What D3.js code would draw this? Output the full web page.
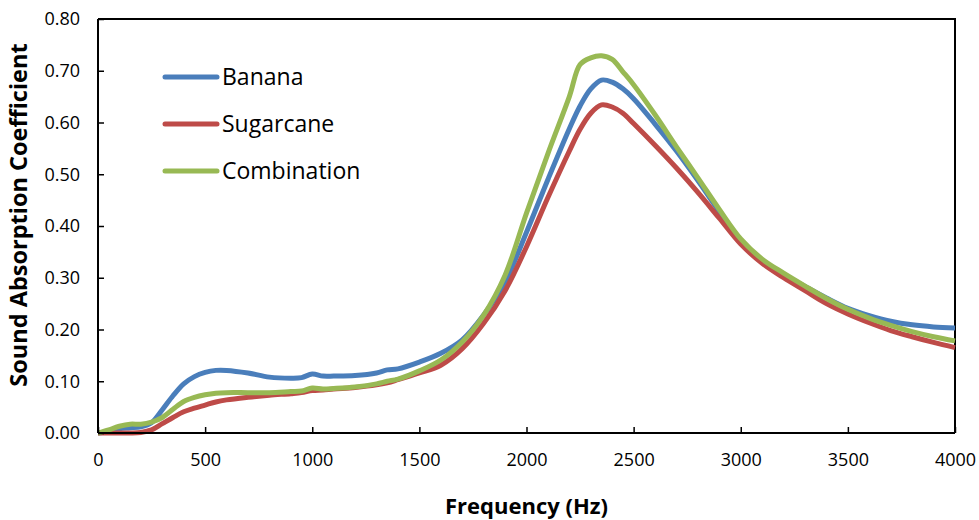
<!DOCTYPE html>
<html>
<head>
<meta charset="utf-8">
<script src="https://cdn.jsdelivr.net/npm/d3@7"></script>
<style>
  body { margin: 0; background: #fff; }
  svg text { font-family: "Open Sans", "Noto Sans", sans-serif; fill: #000; }
</style>
</head>
<body>
<div id="chart"></div>
<script>
// frequencies (Hz) shared by all three series
var freqs = [0, 50, 100, 150, 200, 250, 300, 350, 400, 450, 500, 550, 600,
             700, 800, 900, 950, 1000, 1050, 1100,
             1200, 1300, 1350, 1400,
             1500, 1600, 1700, 1800, 1900, 2000,
             2100, 2200, 2250, 2300, 2350, 2400, 2450, 2500,
             2600, 2700, 2800, 2900, 3000,
             3100, 3200, 3300, 3400, 3500, 3600, 3700, 3800, 3900, 4000];

var banana = [0.000, 0.003, 0.008, 0.010, 0.012, 0.020, 0.045, 0.072, 0.095, 0.109, 0.117, 0.121, 0.121,
              0.116, 0.108, 0.106, 0.107, 0.114, 0.110, 0.110,
              0.111, 0.116, 0.122, 0.124,
              0.137, 0.154, 0.180, 0.228, 0.292, 0.388,
              0.490, 0.588, 0.632, 0.665, 0.682, 0.678, 0.665, 0.646,
              0.597, 0.545, 0.488, 0.428, 0.372,
              0.334, 0.307, 0.283, 0.261, 0.241, 0.227, 0.216, 0.209, 0.205, 0.203];

var sugarcane = [0.000, 0.000, 0.000, 0.000, 0.001, 0.006, 0.018, 0.030, 0.041, 0.048, 0.054, 0.060, 0.064,
                 0.069, 0.073, 0.076, 0.078, 0.082, 0.083, 0.085,
                 0.088, 0.093, 0.097, 0.103,
                 0.116, 0.131, 0.163, 0.212, 0.275, 0.360,
                 0.455, 0.545, 0.587, 0.618, 0.634, 0.630, 0.618, 0.598,
                 0.556, 0.512, 0.465, 0.415, 0.365,
                 0.328, 0.300, 0.275, 0.250, 0.230, 0.213, 0.198, 0.186, 0.175, 0.165];

var combination = [0.000, 0.006, 0.013, 0.017, 0.017, 0.021, 0.030, 0.046, 0.061, 0.069, 0.074, 0.077, 0.078,
                   0.078, 0.078, 0.080, 0.081, 0.087, 0.085, 0.086,
                   0.089, 0.095, 0.100, 0.104,
                   0.120, 0.141, 0.176, 0.228, 0.305, 0.425,
                   0.540, 0.650, 0.712, 0.725, 0.729, 0.722, 0.698, 0.673,
                   0.615, 0.553, 0.493, 0.432, 0.375,
                   0.336, 0.309, 0.284, 0.260, 0.239, 0.222, 0.208, 0.196, 0.186, 0.178];

var seriesNames = ["Banana", "Sugarcane", "Combination"];
var seriesColors = ["#4a7ebb", "#be4b48", "#98b954"];
var xTicks = [0, 500, 1000, 1500, 2000, 2500, 3000, 3500, 4000];
var yTicks = [0, 0.1, 0.2, 0.3, 0.4, 0.5, 0.6, 0.7, 0.8];

var w = 979, h = 520;
var plotLeft = 98, plotRight = 955, plotTop = 19, plotBottom = 433;

var svg = d3.select("#chart").append("svg")
    .attr("width", w)
    .attr("height", h);

var xScale = d3.scaleLinear().domain([0, 4000]).range([plotLeft, plotRight]);
var yScale = d3.scaleLinear().domain([0, 0.8]).range([plotBottom, plotTop]);

// plot area border (top and right edges)
svg.append("path")
    .attr("d", "M" + plotLeft + "," + plotTop + "H" + plotRight + "V" + plotBottom)
    .attr("fill", "none")
    .attr("stroke", "#000")
    .attr("stroke-width", 2);

// lines
var series = [banana, sugarcane, combination];
var line = d3.line()
    .x(function(d, i) { return xScale(freqs[i]); })
    .y(function(d) { return yScale(d); })
    .curve(d3.curveCatmullRom.alpha(0.5));

svg.append("g").selectAll("path")
    .data(series)
    .enter()
    .append("path")
    .attr("d", line)
    .attr("fill", "none")
    .attr("stroke", function(d, i) { return seriesColors[i]; })
    .attr("stroke-width", 5)
    .attr("stroke-linejoin", "round")
    .attr("stroke-linecap", "butt");

// X axis (ticks point inward)
var xAxis = d3.axisBottom(xScale)
    .tickValues(xTicks)
    .tickSize(-6)
    .tickFormat(d3.format("d"));
var gx = svg.append("g")
    .attr("transform", "translate(0," + plotBottom + ")")
    .call(xAxis);
gx.select(".domain").attr("stroke-width", 2).attr("d", "M" + plotLeft + ",0H" + plotRight);
gx.selectAll(".tick line").attr("stroke-width", 1.5);
gx.selectAll(".tick text")
    .attr("y", 20)
    .attr("font-size", "18px")
    .attr("font-family", "'Open Sans', sans-serif");

// Y axis
var yAxis = d3.axisLeft(yScale)
    .tickValues(yTicks)
    .tickSize(-6)
    .tickFormat(d3.format(".2f"));
var gy = svg.append("g")
    .attr("transform", "translate(" + plotLeft + ",0)")
    .call(yAxis);
gy.select(".domain").attr("stroke-width", 2).attr("d", "M0," + plotBottom + "V" + plotTop);
gy.selectAll(".tick line").attr("stroke-width", 1.5);
gy.selectAll(".tick text")
    .attr("x", -18)
    .attr("font-size", "18px")
    .attr("font-family", "'Open Sans', sans-serif");

// axis titles
svg.append("text")
    .attr("x", (plotLeft + plotRight) / 2)
    .attr("y", 514)
    .attr("text-anchor", "middle")
    .attr("font-size", "22px")
    .attr("font-weight", "bold")
    .text("Frequency (Hz)");

svg.append("text")
    .attr("transform", "translate(27," + 215 + ") rotate(-90)")
    .attr("text-anchor", "middle")
    .attr("font-size", "23.5px")
    .attr("font-weight", "bold")
    .text("Sound Absorption Coefficient");

// legend
var legend = svg.append("g").selectAll("g")
    .data(seriesNames)
    .enter()
    .append("g")
    .attr("transform", function(d, i) { return "translate(165," + (77 + i * 47) + ")"; });

legend.append("line")
    .attr("x1", 0).attr("x2", 52)
    .attr("stroke", function(d, i) { return seriesColors[i]; })
    .attr("stroke-width", 5)
    .attr("stroke-linecap", "round");

legend.append("text")
    .attr("x", 57)
    .attr("y", 8)
    .attr("font-size", "23px")
    .text(function(d) { return d; });
</script>
</body>
</html>
